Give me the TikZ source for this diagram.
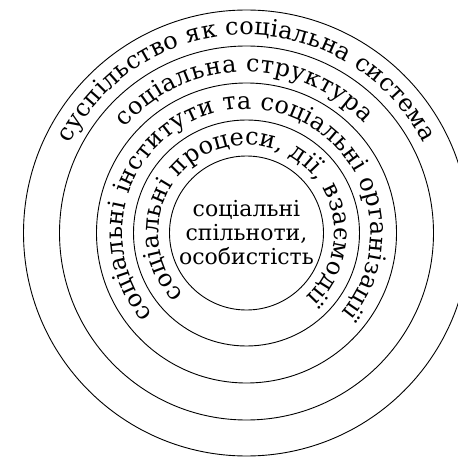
\documentclass[tikz,border=0pt]{standalone}
\usepackage{fontspec}
\setmainfont{DejaVu Serif}
\usetikzlibrary{decorations.text}

\newcommand\ringfont{\fontsize{24}{28}\selectfont}

\begin{document}
\begin{tikzpicture}[x=1pt, y=1pt,
      ring/.style={draw, circle, line width=0.9pt, inner sep=0pt},
      ringtext/.style={decorate, decoration={text along path, text align={fit to path}, text={|\ringfont|#1}}}
    ]
    \useasboundingbox (0,0) rectangle (458,456);
    \clip (0,0) rectangle (458,456);
    \coordinate (c) at (246.5,223);
    % the five rings
    \node[ring, minimum size=446pt] (society) at (c) {};
    \node[ring, minimum size=374pt] (structure) at (c) {};
    \node[ring, minimum size=300pt] (institutes) at (c) {};
    \node[ring, minimum size=226pt] (processes) at (c) {};
    \node[ring, minimum size=154pt] (core) at (c) {};
    \node[align=center, font=\fontsize{22}{24}\selectfont] (corelabel) at (c) {соціальні\\спільноти,\\особистість};
    % labels along the rings
    \path[ringtext={суспільство як соціальна система}] (c) ++(153:198) arc[start angle=153, end angle=27, radius=198];
    \path[ringtext={соціальна структура}] (c) ++(139:161) arc[start angle=139, end angle=43, radius=161];
    \path[ringtext={соціальні інститути та соціальні організації}] (c) ++(221:124) arc[start angle=221, end angle=-40, radius=124];
    \path[ringtext={соціальні процеси, дії, взаємодії}] (c) ++(224:88) arc[start angle=224, end angle=-47, radius=88];
  \end{tikzpicture}
\end{document}
